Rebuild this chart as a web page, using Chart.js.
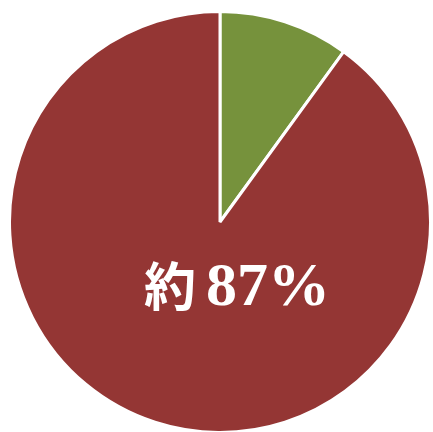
<!DOCTYPE html>
<html>
<head>
<meta charset="utf-8">
<script src="https://cdn.jsdelivr.net/npm/chart.js@4"></script>
<style>
  html, body { margin:0; padding:0; background:#fff; overflow:hidden; }
  #wrap { width:433px; height:436px; position:relative; }
</style>
</head>
<body>
<div id="wrap"><canvas id="pie"></canvas></div>
<script>
const labels = ['その他', '該当'];
const values = [10, 90];
const colors = ['#76923C', '#943634'];
const prefixText = '約';
const valueText = '87%';

const labelPlugin = {
  id: 'centerLabel',
  afterDraw(chart){
    const arc = chart.getDatasetMeta(0).data[1];
    const ctx = chart.ctx;
    ctx.save();
    ctx.fillStyle = '#fff';
    ctx.textAlign = 'left';
    ctx.textBaseline = 'alphabetic';
    ctx.font = "bold 52px 'Noto Sans CJK JP', serif";
    ctx.fillText(prefixText, arc.x - 76, arc.y + 84);
    ctx.font = "bold 62px 'Liberation Serif', serif";
    ctx.fillText(valueText, arc.x - 14, arc.y + 83);
    ctx.restore();
  }
};

new Chart(document.getElementById('pie').getContext('2d'), {
  type:'pie',
  data:{ labels, datasets:[{ data:values, backgroundColor:colors, borderColor:'#fff', borderWidth:3, hoverOffset:0 }] },
  options:{
    responsive:true, maintainAspectRatio:false, animation:false,
    layout:{ padding:{ left:8, right:1, top:10, bottom:2 } },
    plugins:{ legend:{ display:false }, tooltip:{ enabled:false } }
  },
  plugins:[labelPlugin]
});
</script>
</body>
</html>
